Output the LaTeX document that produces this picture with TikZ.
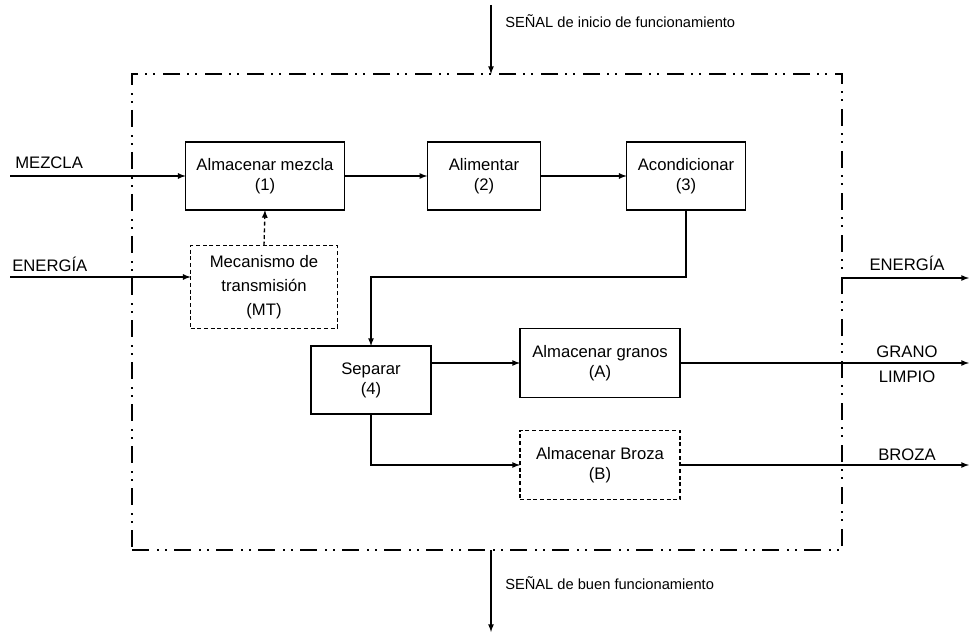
\documentclass[tikz,border=0pt]{standalone}
\usepackage{fontspec}
\setmainfont{Liberation Sans}
\usetikzlibrary{positioning}
\usetikzlibrary{arrows}

\begin{document}
\begin{tikzpicture}[x=0.75pt,y=-0.75pt,>=latex,
    base/.style={draw,line width=1pt,align=center,font=\fontsize{12.5}{15}\selectfont,inner sep=2pt,outer sep=0pt},
    punteado/.style={base,dash pattern=on 3pt off 2pt},
    marco/.style={draw,line width=1.7pt,dash pattern=on 13pt off 6pt on 1.5pt off 4.5pt on 1.5pt off 5pt,minimum width=532.5pt,minimum height=357pt,outer sep=0pt},
    flecha/.style={->,line width=1pt},
    etiq/.style={font=\fontsize{12.5}{14}\selectfont,inner sep=0pt},
    senal/.style={font=\fontsize{11}{13}\selectfont,inner sep=0pt,anchor=base west}]
    \useasboundingbox (0,0) rectangle (969,634);
    %
    \node[marco](sistema) at (487,312){};
    %
    \node[base,minimum width=119pt,minimum height=51pt](alm) at (265,176){Almacenar mezcla\\(1)};
    \node[base,minimum width=85pt,minimum height=51pt](ali) at (484,176){Alimentar\\(2)};
    \node[base,minimum width=89pt,minimum height=51pt](aco) at (686,176){Acondicionar\\(3)};
    \node[punteado,minimum width=110pt,minimum height=62pt,font=\fontsize{12.5}{18}\selectfont](mt) at (264,287){Mecanismo de\\transmisión\\(MT)};
    \node[base,minimum width=90pt,minimum height=51pt](sep) at (371,380){Separar\\(4)};
    \node[base,minimum width=120pt,minimum height=52pt](gra) at (600,363){Almacenar granos\\(A)};
    \node[punteado,minimum width=120pt,minimum height=52pt](bro) at (600,465){Almacenar Broza\\(B)};
    %
    \draw[flecha] (alm) -- (ali);
    \draw[flecha] (ali) -- (aco);
    \draw[flecha,dash pattern=on 3pt off 2pt] (mt.north) -- (alm.south);
    \draw[flecha] (aco.south) -- ++(0,67) -| (sep.north);
    \draw[flecha] (sep.east |- gra.west) -- (gra.west);
    \draw[flecha] (sep.south) |- (bro.west);
    %
    \coordinate(eMezcla) at (10,176);
    \coordinate(eEnergia) at (10,277);
    \node[etiq,anchor=base west](lMezcla) at (15,169){MEZCLA};
    \node[etiq,anchor=base west](lEnergia) at (12,272){ENERGÍA};
    \draw[flecha] (eMezcla) -- (alm.west);
    \draw[flecha] (eEnergia) -- (eEnergia -| mt.west);
    %
    \coordinate(sEnergia) at (969,278);
    \coordinate(sGrano) at (969,363);
    \coordinate(sBroza) at (969,465);
    \draw[flecha] (sEnergia -| sistema.east) -- (sEnergia);
    \draw[flecha] (gra.east) -- (sGrano);
    \draw[flecha] (bro.east) -- (sBroza);
    \node[etiq,anchor=base](oEnergia) at (907,271){ENERGÍA};
    \node[etiq,anchor=base](oGrano) at (907,357){GRANO};
    \node[etiq,anchor=base](oLimpio) at (907,382){LIMPIO};
    \node[etiq,anchor=base](oBroza) at (907,460){BROZA};
    %
    \coordinate(senalIn) at (491,5);
    \coordinate(senalOut) at (491,632);
    \draw[flecha] (senalIn) -- (senalIn |- sistema.north);
    \draw[flecha] (senalOut |- sistema.south) -- (senalOut);
    \node[senal](lInicio) at (505,28){SEÑAL de inicio de funcionamiento};
    \node[senal](lBuen) at (505,589){SEÑAL de buen funcionamiento};
    %
\end{tikzpicture}
\end{document}
